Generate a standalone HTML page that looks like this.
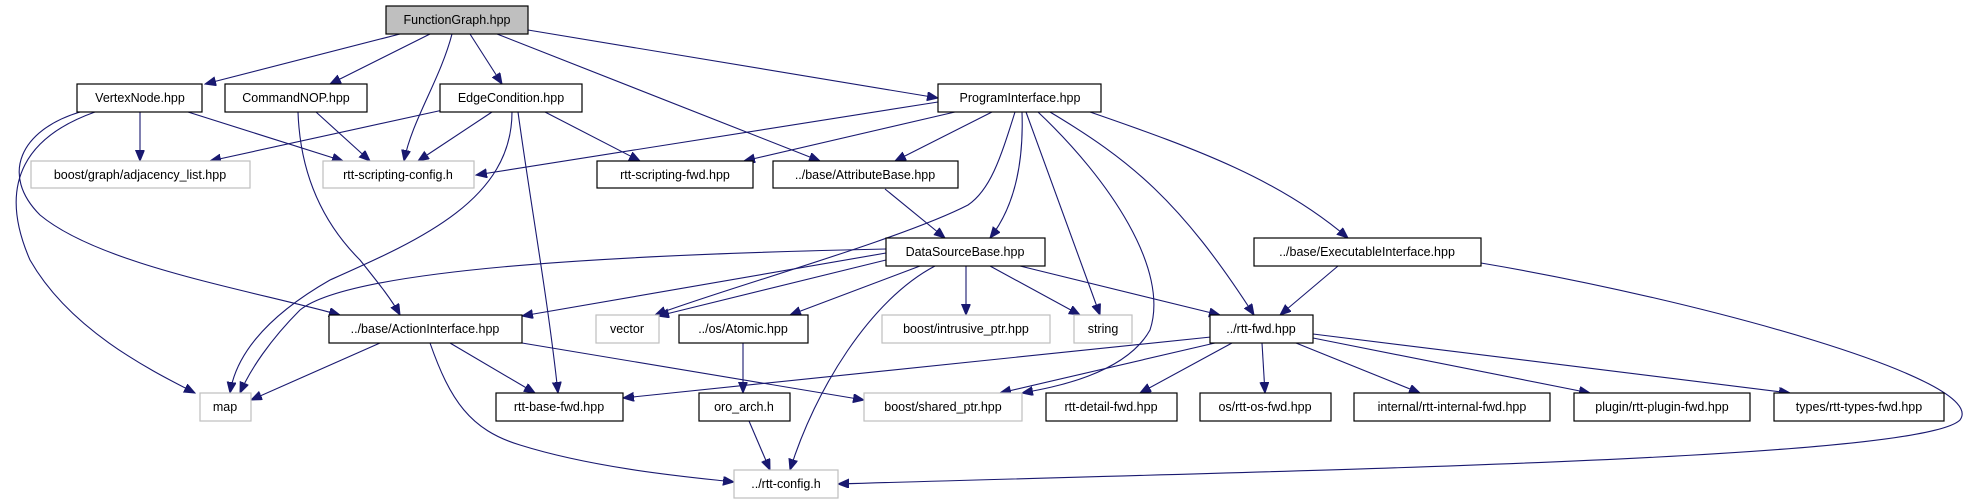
<!DOCTYPE html>
<html><head><meta charset="utf-8"><style>
html,body{margin:0;padding:0;background:#fff;}
svg{display:block;}
text{font-family:"Liberation Sans","DejaVu Sans",sans-serif;font-size:12.5px;fill:#000;}
.e{fill:none;stroke:#191970;stroke-width:1.1;marker-end:url(#a);}
.n{fill:#fff;stroke:#000;stroke-width:1.2;}
.g{fill:#fff;stroke:#bfbfbf;stroke-width:1.2;}
</style></head><body>
<svg width="1971" height="504" viewBox="0 0 1971 504" xmlns="http://www.w3.org/2000/svg">
<defs><marker id="a" markerUnits="userSpaceOnUse" markerWidth="12" markerHeight="10" refX="11" refY="4.5" orient="auto"><path d="M0,0 L11,4.5 L0,9 z" fill="#191970" stroke="#191970"/></marker></defs>
<path class="e" d="M400,34 L205,84"/>
<path class="e" d="M430,34 L330,84"/>
<path class="e" d="M452,34 C440,80 412,120 404,161"/>
<path class="e" d="M470,34 L502,84"/>
<path class="e" d="M497,34 L820,161"/>
<path class="e" d="M528,30 L938,98"/>
<path class="e" d="M140,112 L140,161"/>
<path class="e" d="M188,112 L343,161"/>
<path class="e" d="M95,112 C30,135 -5,180 30,260 C70,330 150,370 195,393"/>
<path class="e" d="M80,112 C20,130 0,175 40,215 C100,265 250,290 340,315"/>
<path class="e" d="M316,112 L370,161"/>
<path class="e" d="M298,112 C300,170 320,220 360,260 C380,285 392,300 400,315"/>
<path class="e" d="M443,110 L210,161"/>
<path class="e" d="M492,112 L418,161"/>
<path class="e" d="M545,112 L640,161"/>
<path class="e" d="M512,112 C512,200 420,240 330,280 C260,320 235,360 230,393"/>
<path class="e" d="M518,112 C530,200 548,300 558,393"/>
<path class="e" d="M938,102 L476,175"/>
<path class="e" d="M955,112 L744,161"/>
<path class="e" d="M992,112 L895,161"/>
<path class="e" d="M1015,112 C1000,160 990,190 968,205 C900,240 720,290 655,315"/>
<path class="e" d="M1022,112 C1024,170 1012,210 990,238"/>
<path class="e" d="M1026,112 L1100,315"/>
<path class="e" d="M1038,112 C1110,180 1170,270 1150,330 C1125,375 1050,388 1022,393"/>
<path class="e" d="M1050,112 C1130,160 1180,200 1254,315"/>
<path class="e" d="M1090,112 C1200,150 1280,180 1348,238"/>
<path class="e" d="M885,189 L945,238"/>
<path class="e" d="M886,253 L522,316"/>
<path class="e" d="M886,249 C600,255 350,270 300,310 C270,340 250,370 240,393"/>
<path class="e" d="M886,260 L658,316"/>
<path class="e" d="M920,266 L790,315"/>
<path class="e" d="M935,266 C870,300 815,390 790,470"/>
<path class="e" d="M966,266 L966,315"/>
<path class="e" d="M990,266 L1080,315"/>
<path class="e" d="M1020,266 L1220,315"/>
<path class="e" d="M1338,266 L1280,315"/>
<path class="e" d="M1481,263 C1700,300 1990,380 1960,420 C1920,460 1300,470 838,484"/>
<path class="e" d="M380,343 L251,400"/>
<path class="e" d="M450,343 L535,393"/>
<path class="e" d="M522,343 L864,400"/>
<path class="e" d="M430,343 C450,400 470,430 520,445 C600,470 700,478 734,482"/>
<path class="e" d="M743,343 L743,393"/>
<path class="e" d="M749,421 L770,470"/>
<path class="e" d="M1211,337 L623,398"/>
<path class="e" d="M1215,343 L1000,393"/>
<path class="e" d="M1232,343 L1140,393"/>
<path class="e" d="M1262,343 L1265,393"/>
<path class="e" d="M1296,343 L1420,393"/>
<path class="e" d="M1313,338 L1590,393"/>
<path class="e" d="M1313,334 L1790,393"/>
<rect x="386" y="6" width="142" height="28" fill="#bfbfbf" stroke="#000" stroke-width="1.2"/><text x="457" y="24" text-anchor="middle">FunctionGraph.hpp</text>
<rect class="n" x="77" y="84" width="125" height="28"/><text x="140" y="102" text-anchor="middle">VertexNode.hpp</text>
<rect class="n" x="225" y="84" width="142" height="28"/><text x="296" y="102" text-anchor="middle">CommandNOP.hpp</text>
<rect class="n" x="440" y="84" width="142" height="28"/><text x="511" y="102" text-anchor="middle">EdgeCondition.hpp</text>
<rect class="n" x="938" y="84" width="163" height="28"/><text x="1020" y="102" text-anchor="middle">ProgramInterface.hpp</text>
<rect class="g" x="31" y="161" width="219" height="27"/><text x="140" y="179" text-anchor="middle">boost/graph/adjacency_list.hpp</text>
<rect class="g" x="323" y="161" width="151" height="27"/><text x="398" y="179" text-anchor="middle">rtt-scripting-config.h</text>
<rect class="n" x="597" y="161" width="156" height="27"/><text x="675" y="179" text-anchor="middle">rtt-scripting-fwd.hpp</text>
<rect class="n" x="773" y="161" width="185" height="27"/><text x="865" y="179" text-anchor="middle">../base/AttributeBase.hpp</text>
<rect class="n" x="886" y="238" width="159" height="28"/><text x="965" y="256" text-anchor="middle">DataSourceBase.hpp</text>
<rect class="n" x="1254" y="238" width="227" height="28"/><text x="1367" y="256" text-anchor="middle">../base/ExecutableInterface.hpp</text>
<rect class="n" x="329" y="315" width="193" height="28"/><text x="425" y="333" text-anchor="middle">../base/ActionInterface.hpp</text>
<rect class="g" x="596" y="315" width="63" height="28"/><text x="627" y="333" text-anchor="middle">vector</text>
<rect class="n" x="679" y="315" width="129" height="28"/><text x="743" y="333" text-anchor="middle">../os/Atomic.hpp</text>
<rect class="g" x="882" y="315" width="168" height="28"/><text x="966" y="333" text-anchor="middle">boost/intrusive_ptr.hpp</text>
<rect class="g" x="1074" y="315" width="58" height="28"/><text x="1103" y="333" text-anchor="middle">string</text>
<rect class="n" x="1210" y="315" width="103" height="28"/><text x="1261" y="333" text-anchor="middle">../rtt-fwd.hpp</text>
<rect class="g" x="200" y="393" width="51" height="28"/><text x="225" y="411" text-anchor="middle">map</text>
<rect class="n" x="496" y="393" width="127" height="28"/><text x="559" y="411" text-anchor="middle">rtt-base-fwd.hpp</text>
<rect class="n" x="699" y="393" width="91" height="28"/><text x="744" y="411" text-anchor="middle">oro_arch.h</text>
<rect class="g" x="864" y="393" width="158" height="28"/><text x="943" y="411" text-anchor="middle">boost/shared_ptr.hpp</text>
<rect class="n" x="1046" y="393" width="131" height="28"/><text x="1111" y="411" text-anchor="middle">rtt-detail-fwd.hpp</text>
<rect class="n" x="1200" y="393" width="131" height="28"/><text x="1265" y="411" text-anchor="middle">os/rtt-os-fwd.hpp</text>
<rect class="n" x="1354" y="393" width="196" height="28"/><text x="1452" y="411" text-anchor="middle">internal/rtt-internal-fwd.hpp</text>
<rect class="n" x="1574" y="393" width="176" height="28"/><text x="1662" y="411" text-anchor="middle">plugin/rtt-plugin-fwd.hpp</text>
<rect class="n" x="1774" y="393" width="170" height="28"/><text x="1859" y="411" text-anchor="middle">types/rtt-types-fwd.hpp</text>
<rect class="g" x="734" y="470" width="104" height="28"/><text x="786" y="488" text-anchor="middle">../rtt-config.h</text>
</svg>
</body></html>
